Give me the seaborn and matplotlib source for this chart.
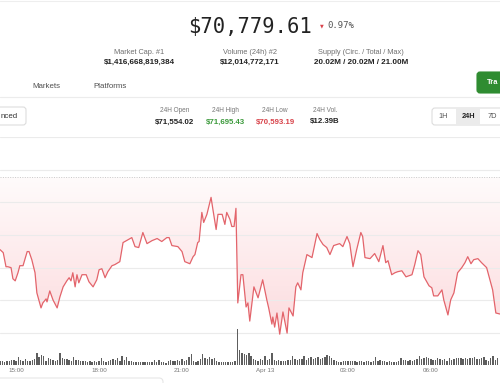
import numpy as np
import pandas as pd
import matplotlib
matplotlib.use('Agg')
import matplotlib.pyplot as plt
from matplotlib.patches import FancyBboxPatch
from matplotlib.lines import Line2D
from matplotlib.transforms import IdentityTransform
from matplotlib.colors import LinearSegmentedColormap
import matplotlib.dates as mdates
import seaborn as sns

W, H = 500, 383

# DATA
start = pd.Timestamp('2024-04-12 14:25')
# minutes after start for each price point
minutes = [0, 7, 13, 17, 24, 28, 33, 39, 43, 50,
           59, 63, 69, 76, 80, 89, 93, 100, 102, 108,
           115, 124, 130, 137, 145, 150, 154, 158, 163, 167,
           171, 178, 187, 193, 202, 210, 215, 221, 228, 234,
           243, 249, 260, 267, 271, 286, 293, 301, 310, 319,
           330, 341, 351, 362, 367, 373, 386, 395, 401, 412,
           419, 423, 429, 432, 438, 442, 449, 458, 462, 469,
           473, 482, 488, 492, 499, 503, 508, 512, 516, 523,
           527, 534, 538, 542, 551, 560, 570, 579, 583, 590,
           592, 596, 601, 607, 614, 623, 627, 636, 642, 646,
           653, 657, 666, 677, 688, 694, 701, 709, 716, 724,
           731, 737, 744, 753, 759, 766, 774, 783, 787, 792,
           803, 813, 822, 831, 837, 842, 850, 857, 863, 872,
           881, 894, 900, 907, 913, 920, 931, 937, 941, 950,
           959, 963, 972, 978, 985, 993, 1002, 1009, 1015, 1022,
           1028, 1037, 1045, 1056, 1063, 1069, 1076, 1085]
prices = [71288, 71265, 71157, 71157, 71150, 71065, 71049, 71111, 71165, 71165,
          71273, 71273, 71211, 71111, 70957, 70842, 70880, 70911, 70888, 70972,
          70903, 70842, 70926, 71003, 71049, 71073, 71049, 71111, 71003, 71096,
          71034, 71096, 71096, 71042, 71003, 71057, 71134, 71142, 71073, 71119,
          71165, 71173, 71196, 71342, 71350, 71380, 71311, 71304, 71419, 71334,
          71357, 71373, 71350, 71380, 71380, 71319, 71311, 71273, 71196, 71180,
          71234, 71250, 71342, 71350, 71573, 71496, 71558, 71688, 71596, 71442,
          71558, 71558, 71481, 71573, 71519, 71465, 71465, 71604, 70880, 71096,
          71096, 70849, 70880, 70741, 71003, 70919, 71057, 70903, 70842, 70718,
          70772, 70695, 70803, 70641, 70811, 70649, 70842, 70780, 71003, 71034,
          70980, 71111, 71250, 71227, 71411, 71365, 71327, 71304, 71250, 71319,
          71327, 71334, 71311, 71388, 71334, 71157, 71288, 71419, 71388, 71227,
          71219, 71258, 71196, 71319, 71188, 71203, 71096, 71111, 71119, 71126,
          71080, 71096, 71173, 71280, 71250, 71080, 71011, 70996, 70934, 70934,
          70980, 70903, 70788, 70903, 70957, 71111, 71150, 71188, 71234, 71180,
          71211, 71219, 71188, 71150, 71057, 70980, 70803, 70795]
# 5-minute volume bars (relative units)
volumes = [4, 4, 3, 4, 4, 5, 5, 4, 8, 5, 4, 6, 4, 4, 5, 6, 12, 8, 10, 9,
           4, 7, 6, 5, 4, 5, 12, 7, 6, 6, 5, 4, 8, 5, 5, 4, 4, 4, 3, 4,
           3, 4, 3, 4, 7, 4, 3, 4, 5, 6, 5, 7, 4, 9, 5, 8, 4, 4, 3, 3,
           3, 3, 3, 3, 3, 3, 3, 5, 3, 5, 3, 3, 2, 4, 5, 4, 4, 5, 4, 6,
           4, 5, 8, 11, 4, 3, 4, 6, 11, 7, 6, 8, 6, 7, 4, 3, 3, 3, 3, 3,
           3, 3, 4, 36, 15, 12, 11, 10,
           12, 9, 6, 5, 4, 6, 5, 9, 5, 6, 12, 5, 4, 5, 4, 4, 4, 5, 5, 9,
           6, 5, 6, 6, 9, 5, 7, 8, 6, 7, 8, 6, 7, 8, 10, 9, 7, 5,
           4, 3, 3, 4, 4, 4, 4, 4, 4, 3, 4, 4, 3, 4, 4, 3, 4, 8,
           4, 5, 4, 4, 3, 4, 3, 3, 3, 4, 7, 5, 5, 4, 5, 4, 5, 6, 9,
           6, 7, 8, 7, 6, 5, 5, 7, 6, 5, 6, 4, 7, 5, 6, 7, 7, 7, 6, 7, 6,
           7, 7, 8, 6, 6, 7, 8, 5, 4, 7, 9, 5, 7]
ref_price = 71842
grid_prices = [70650, 70900, 71150, 71400, 71650, 71900, 72150]
tick_times = ['2024-04-12 15:00', '2024-04-12 18:00', '2024-04-12 21:00',
              '2024-04-13 00:00', '2024-04-13 03:00', '2024-04-13 06:00']
tick_labels = ['15:00', '18:00', '21:00', 'Apr 13', '03:00', '06:00']

times = start + pd.to_timedelta(minutes, unit='m')
bar_times = start + pd.to_timedelta(np.arange(len(volumes)) * 5, unit='m')
x_end = start + pd.Timedelta(minutes=1085)

sns.set_theme(style='white')
SANS = ['Liberation Sans', 'DejaVu Sans']
MONO = ['DejaVu Sans Mono']
plt.rcParams['font.family'] = SANS

fig = plt.figure(figsize=(W / 100, H / 100), dpi=100)
fig.patch.set_facecolor('white')


def fx(x):
    return x / W


def fy(y):
    return 1 - y / H


def txt(x, y, s, size, color, weight='normal', ha='center', va='center', family=SANS):
    fig.text(fx(x), fy(y), s, fontsize=size, color=color, fontweight=weight,
             ha=ha, va=va, family=family)


def box(x0, y0, x1, y1, face, edge, r=3, lw=0.8):
    p = FancyBboxPatch((x0, H - y1), x1 - x0, y1 - y0,
                       boxstyle=f'round,pad=0,rounding_size={r}',
                       transform=IdentityTransform(), facecolor=face,
                       edgecolor=edge, linewidth=lw)
    fig.add_artist(p)


def hline(y, x0, x1, color, lw=0.8):
    fig.add_artist(Line2D([fx(x0), fx(x1)], [fy(y), fy(y)], color=color, lw=lw))


# HEADER
hline(1, 0, 500, '#eeeeee')
txt(250, 33, '$70,779.61', 14.8, '#222222', va='baseline', family=MONO)
txt(322, 26, '▼', 3.5, '#d9434b', family=['DejaVu Sans'])
txt(327, 26, '0.97%', 6.5, '#555555', ha='left', family=MONO)

stats_top = [(139, 'Market Cap. #1', '$1,416,668,819,384'),
             (250, 'Volume (24h) #2', '$12,014,772,171'),
             (361, 'Supply (Circ. / Total / Max)', '20.02M / 20.02M / 21.00M')]
for x, lab, val in stats_top:
    txt(x, 52, lab, 5.3, '#707070')
    txt(x, 62.5, val, 5.8, '#222222', weight='bold')

# tabs
txt(46, 86, 'Markets', 5.7, '#505050')
txt(110, 86, 'Platforms', 5.7, '#505050')
box(477, 72, 515, 93, '#2f8c31', '#2f8c31')
txt(487, 82.5, 'Tra', 5.4, 'white', weight='bold', ha='left')
hline(97, 0, 500, '#ececec')

# controls row (buttons cut at the page edge)
box(-10, 107, 26, 125, 'white', '#dddddd')
txt(0.5, 116, 'nced', 5.7, '#333333', ha='left')
stats_24h = [(175, '24H Open', '$71,554.02', '#222222'),
             (225, '24H High', '$71,695.43', '#3c9a3c'),
             (275, '24H Low', '$70,593.19', '#d8434a'),
             (325, '24H Vol.', '$12.39B', '#222222')]
for x, lab, val, col in stats_24h:
    txt(x, 111, lab, 4.7, '#777777')
    txt(x, 122, val, 5.7, col, weight='bold')
box(432, 108, 510, 125, 'white', '#dddddd')
box(456, 108.5, 480, 124.5, '#ebebeb', '#ebebeb', r=0, lw=0)
txt(443, 116.5, '1H', 5.3, '#555555')
txt(468, 116.5, '24H', 5.3, '#222222', weight='bold')
txt(492, 116.5, '7D', 5.3, '#555555')

# PRICE CHART
ax = fig.add_axes([0, fy(345), 1, (345 - 137) / H])
ax.patch.set_visible(False)
for gp in grid_prices:
    ax.axhline(gp, color='#ebebeb', lw=0.8, zorder=1.5)
ax.axhline(ref_price, color='#c9c9c9', lw=0.7, ls=(0, (1, 1.5)), zorder=1.5)

# gradient fill between price line and reference line
poly = ax.fill_between(times, prices, ref_price, color='none', lw=0)
cmap = LinearSegmentedColormap.from_list('pinkfade', ['#fffbfb', '#fcdadd'])
grad = np.linspace(1, 0, 256).reshape(-1, 1)
x0, x1 = mdates.date2num(times[0]), mdates.date2num(times[-1])
im = ax.imshow(grad, extent=[x0, x1, 70600, ref_price], aspect='auto',
               cmap=cmap, origin='lower', zorder=1)
im.set_clip_path(poly.get_paths()[0], transform=ax.transData)

sns.lineplot(x=times, y=prices, ax=ax, color='#e3646b', linewidth=0.9, zorder=3)
ax.set_xlim(start, x_end)
ax.set_ylim(70558, 72150)
ax.set_axis_off()

# VOLUME
vax = fig.add_axes([0, fy(365), 1, 40 / H])
vax.patch.set_visible(False)
vax.bar(bar_times, volumes, width=3 / 1440, color='#5e5e5e', lw=0)
vax.set_xlim(start, x_end)
vax.set_ylim(0, 40)
sns.despine(ax=vax, left=True, bottom=True)
vax.set_yticks([])
vax.set_xticks(pd.to_datetime(tick_times))
vax.set_xticklabels(tick_labels)
vax.tick_params(axis='x', length=0, pad=2, labelsize=4.5, labelcolor='#777777')
vax.set_xlabel('')

# bottom panel edge
box(-5, 378, 163, 400, 'white', '#e6e6e6', r=4)

fig.savefig('out.png', dpi=100)
